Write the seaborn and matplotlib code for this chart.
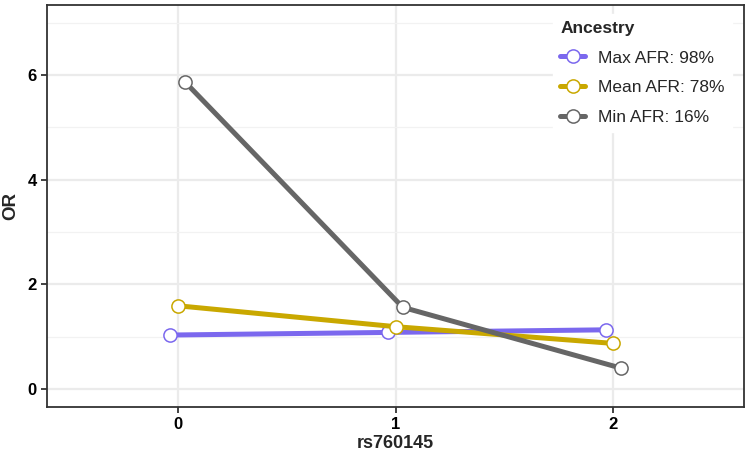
import numpy as np
import pandas as pd
import matplotlib
matplotlib.use("Agg")
import matplotlib.pyplot as plt
import seaborn as sns
from matplotlib.lines import Line2D

genotypes = [0, 1, 2]
series = ["Max AFR: 98%", "Mean AFR: 78%", "Min AFR: 16%"]
or_max = [1.03, 1.08, 1.13]
or_mean = [1.59, 1.19, 0.87]
or_min = [5.87, 1.56, 0.40]
colors = ["#7B68EE", "#C9A800", "#666666"]

sns.set_theme(style="white")
plt.rcParams["font.family"] = ["Liberation Sans", "DejaVu Sans"]

dodge_width = 0.1
rows = []
for i, (name, vals) in enumerate(zip(series, [or_max, or_mean, or_min])):
    off = (i - 1) * dodge_width / 3
    for g, v in zip(genotypes, vals):
        rows.append({"Ancestry": name, "genotype": g, "xpos": g + off, "OR": v})
df = pd.DataFrame(rows)

fig = plt.figure(figsize=(7.5, 4.51), dpi=100)
ax = fig.add_axes([47 / 750, 1 - 406.7 / 451, (744 - 47) / 750, (406.7 - 5) / 451])

LW = 3.6
MS = 9.5
MEW = 1.1
sns.lineplot(data=df, x="xpos", y="OR", hue="Ancestry", hue_order=series,
             palette=colors, marker="o", markersize=MS, linewidth=LW,
             legend=False, ax=ax, zorder=3)
for line, c in zip(ax.lines, colors):
    line.set_markerfacecolor("white")
    line.set_markeredgecolor(c)
    line.set_markeredgewidth(MEW)

ax.set_xlim(-0.6, 2.6)
ax.set_ylim(-0.34, 7.34)
ax.set_xticks(genotypes)
ax.set_xticklabels([str(g) for g in genotypes])
ax.set_yticks([0, 2, 4, 6])
ax.set_yticks([1, 3, 5, 7], minor=True)
ax.grid(True, which="major", color="#EBEBEB", linewidth=1.6, zorder=0)
ax.grid(True, which="minor", axis="y", color="#F2F2F2", linewidth=0.9, zorder=0)
ax.set_axisbelow(True)
for s in ax.spines.values():
    s.set_color("#333333")
    s.set_linewidth(1.3)
ax.tick_params(axis="both", which="major", length=4.5, width=1.3, color="#333333",
               labelsize=12, labelcolor="black", pad=3, direction="out",
               bottom=True, left=True)
ax.tick_params(axis="y", which="minor", length=0)
for lbl in ax.get_xticklabels() + ax.get_yticklabels():
    lbl.set_fontweight("bold")
ax.set_xlabel("rs760145", fontsize=13, fontweight="bold", labelpad=2)
ax.set_ylabel("OR", fontsize=13.5, fontweight="bold", labelpad=6)

handles = [Line2D([0], [0], color=c, linewidth=LW, marker="o", markersize=MS,
                  markerfacecolor="white", markeredgecolor=c, markeredgewidth=MEW)
           for c in colors]
leg = ax.legend(handles, series, title="Ancestry", loc="upper right",
                bbox_to_anchor=(0.995, 1.0), frameon=True, fancybox=False,
                edgecolor="white", facecolor="white", framealpha=1,
                fontsize=12.5, title_fontsize=12.5, handlelength=1.45,
                handletextpad=0.75, labelspacing=0.85, borderpad=0.4)
leg.get_title().set_fontweight("bold")
leg._legend_box.align = "left"

fig.savefig("out.png", dpi=100)
